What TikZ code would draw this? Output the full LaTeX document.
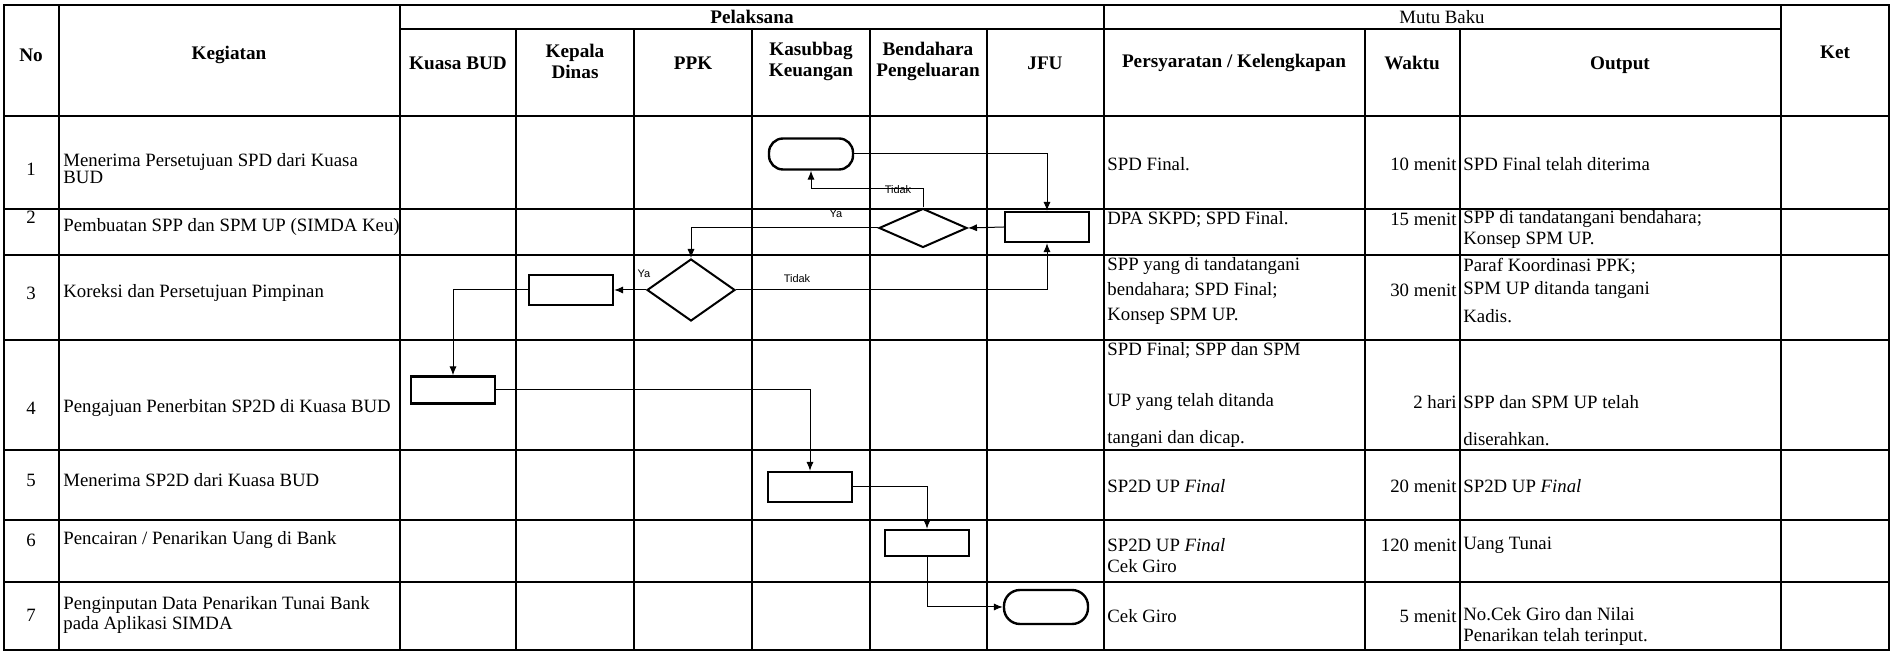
\documentclass[tikz,border=0pt]{standalone}
\usepackage{fontspec}
\setmainfont{Liberation Serif}
\newfontfamily\lblfont{Liberation Sans}
\usetikzlibrary{shapes.geometric,arrows.meta}

\tikzset{
  grid/.style={line width=1pt},
  proc/.style={draw,line width=1.2pt,inner sep=0pt,minimum width=42pt,minimum height=15pt},
  term/.style={proc,rounded corners=7pt},
  dec/.style={draw,diamond,line width=1pt,inner sep=0pt,minimum width=44pt},
  link/.style={line width=.5pt,-{Latex[length=4.5pt,width=3.6pt]}},
  lbl/.style={font=\lblfont\fontsize{5.5}{6}\selectfont,inner sep=0pt},
  hd/.style={font=\bfseries\fontsize{9.6}{10.5}\selectfont,align=center,inner sep=0pt},
  txt/.style={font=\fontsize{9.4}{8.5}\selectfont,align=left,anchor=west,inner sep=0pt},
  num/.style={font=\fontsize{9.4}{8.5}\selectfont,anchor=east,inner sep=0pt},
}

\begin{document}
\begin{tikzpicture}[x=.5pt,y=-.5pt]
  \useasboundingbox (0,0) rectangle (1892,651);

  % table grid
  \draw[grid] (4,5) rectangle (1889,650);
  \draw[grid] (400,29) -- (1781,29);
  \foreach \y in {116,209,255,340,450,520,582}
    \draw[grid] (4,\y) -- (1889,\y);
  \foreach \x in {59,400,1104,1781}
    \draw[grid] (\x,5) -- (\x,650);
  \foreach \x in {516,634,752,870,987,1365,1460}
    \draw[grid] (\x,29) -- (\x,650);

  % header
  \node[hd] (hNo) at (31,55) {No};
  \node[hd] (hKeg) at (229,55) {Kegiatan};
  \node[hd] (hPel) at (752,17) {Pelaksana};
  \node[hd,font=\fontsize{9.4}{10.5}\selectfont] (hMutu) at (1442,17) {Mutu Baku};
  \node[hd] (hBud) at (458,63) {Kuasa BUD};
  \node[hd] (hKadis) at (575,61) {Kepala\\Dinas};
  \node[hd] (hPpk) at (693,63) {PPK};
  \node[hd] (hKas) at (811,61) {Kasubbag\\Keuangan};
  \node[hd] (hBend) at (928,61) {Bendahara\\Pengeluaran};
  \node[hd] (hJfu) at (1045,63) {JFU};
  \node[hd] (hSyarat) at (1234,63) {Persyaratan / Kelengkapan};
  \node[hd] (hWaktu) at (1412,63) {Waktu};
  \node[hd] (hOut) at (1620,65) {Output};
  \node[hd] (hKet) at (1835,52) {Ket};

  % row 1
  \node[num,anchor=center] (no1) at (31,169) {1};
  \node[txt] (keg1) at (63,169) {Menerima Persetujuan SPD dari Kuasa\\BUD};
  \node[txt] (syarat1) at (1107,164) {SPD Final.};
  \node[num] (waktu1) at (1457,164) {10 menit};
  \node[txt] (out1) at (1463,164) {SPD Final telah diterima};

  % row 2
  \node[num,anchor=center] (no2) at (31,217) {2};
  \node[txt] (keg2) at (63,227) {Pembuatan SPP dan SPM UP (SIMDA Keu)};
  \node[txt] (syarat2) at (1107,219) {DPA SKPD; SPD Final.};
  \node[num] (waktu2) at (1457,219) {15 menit};
  \node[txt] (out2) at (1463,229) {SPP di tandatangani bendahara;\\[2pt]Konsep SPM UP.};

  % row 3
  \node[num,anchor=center] (no3) at (31,293) {3};
  \node[txt] (keg3) at (63,293) {Koreksi dan Persetujuan Pimpinan};
  \node[txt] (syarat3a) at (1107,266) {SPP yang di tandatangani};
  \node[txt] (syarat3b) at (1107,290) {bendahara; SPD Final;};
  \node[txt] (syarat3c) at (1107,316) {Konsep SPM UP.};
  \node[num] (waktu3) at (1457,290) {30 menit};
  \node[txt] (out3a) at (1463,266) {Paraf Koordinasi PPK;};
  \node[txt] (out3b) at (1463,290) {SPM UP ditanda tangani};
  \node[txt] (out3c) at (1463,316) {Kadis.};

  % row 4
  \node[num,anchor=center] (no4) at (31,408) {4};
  \node[txt] (keg4) at (63,408) {Pengajuan Penerbitan SP2D di Kuasa BUD};
  \node[txt] (syarat4a) at (1107,350) {SPD Final; SPP dan SPM};
  \node[txt] (syarat4b) at (1107,402) {UP yang telah ditanda};
  \node[txt] (syarat4c) at (1107,439) {tangani dan dicap.};
  \node[num] (waktu4) at (1457,402) {2 hari};
  \node[txt] (out4a) at (1463,402) {SPP dan SPM UP telah};
  \node[txt] (out4b) at (1463,439) {diserahkan.};

  % row 5
  \node[num,anchor=center] (no5) at (31,480) {5};
  \node[txt] (keg5) at (63,480) {Menerima SP2D dari Kuasa BUD};
  \node[txt] (syarat5) at (1107,486) {SP2D UP \textit{Final}};
  \node[num] (waktu5) at (1457,486) {20 menit};
  \node[txt] (out5) at (1463,486) {SP2D UP \textit{Final}};

  % row 6
  \node[num,anchor=center] (no6) at (31,540) {6};
  \node[txt] (keg6) at (63,540) {Pencairan / Penarikan Uang di Bank};
  \node[txt] (syarat6) at (1107,556) {SP2D UP \textit{Final}\\[2pt]Cek Giro};
  \node[num] (waktu6) at (1457,545) {120 menit};
  \node[txt] (out6) at (1463,545) {Uang Tunai};

  % row 7
  \node[num,anchor=center] (no7) at (31,615) {7};
  \node[txt] (keg7) at (63,615) {Penginputan Data Penarikan Tunai Bank\\pada Aplikasi SIMDA};
  \node[txt] (syarat7) at (1107,616) {Cek Giro};
  \node[num] (waktu7) at (1457,616) {5 menit};
  \node[txt] (out7) at (1463,626) {No.Cek Giro dan Nilai\\[2pt]Penarikan telah terinput.};

  % flow
  \node[term,minimum height=15.5pt] (mulai) at (811,154) {};
  \node[proc] (jfuSpp) at (1047,227) {};
  \node[dec,minimum height=19.5pt] (cekBend) at (923,228) {};
  \node[dec,minimum height=31pt] (cekPpk) at (691,290) {};
  \node[proc] (kadisTtd) at (571,290) {};
  \node[proc,minimum height=13.5pt] (budAju) at (453,390) {};
  \node[proc] (kasTerima) at (810,487) {};
  \node[proc,minimum height=13pt] (bendCair) at (927,543) {};
  \node[term,minimum height=17pt,rounded corners=8pt] (selesai) at (1046,607) {};

  \draw[link] (mulai.east) -| (jfuSpp.north);
  \draw[link] (jfuSpp.west) -- (cekBend.east);
  \draw[link] (cekBend.north) -- ++(0,-19) -| (mulai.south);
  \draw[link] (cekBend.west) -| (cekPpk.north);
  \draw[link] (cekPpk.east) -| (jfuSpp.south);
  \draw[link] (cekPpk.west) -- (kadisTtd.east);
  \draw[link] (kadisTtd.west) -| (budAju.north);
  \draw[link] (budAju.east) -| (kasTerima.north);
  \draw[link] (kasTerima.east) -| (bendCair.north);
  \draw[link] (bendCair.south) |- (selesai.west);

  \node[lbl] (tidak1) at (898,190) {Tidak};
  \node[lbl] (ya1) at (836,214) {Ya};
  \node[lbl] (tidak2) at (797,279) {Tidak};
  \node[lbl] (ya2) at (644,274) {Ya};
\end{tikzpicture}
\end{document}
